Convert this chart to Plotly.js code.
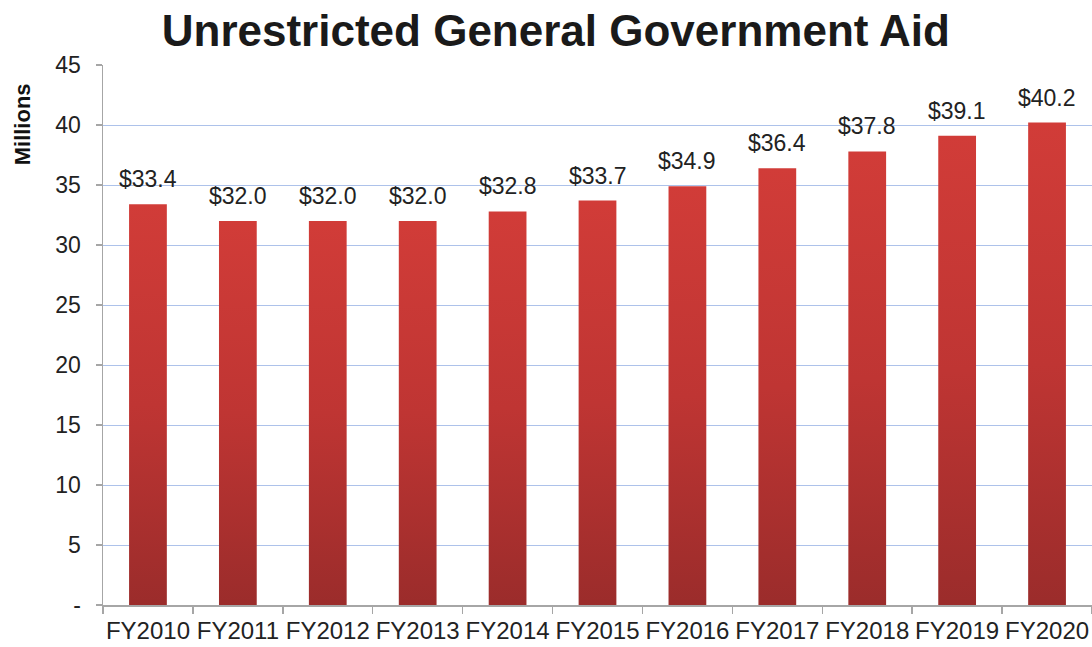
<!DOCTYPE html>
<html>
<head>
<meta charset="utf-8">
<script src="https://cdn.plot.ly/plotly-3.0.1.min.js"></script>
<style>html,body{margin:0;padding:0;background:#fff;}#chart{width:1092px;height:647px;}</style>
</head>
<body>
<div id="chart"></div>
<script>
const categories = ["FY2010","FY2011","FY2012","FY2013","FY2014","FY2015","FY2016","FY2017","FY2018","FY2019","FY2020"];
const aidMillions = [33.4, 32.0, 32.0, 32.0, 32.8, 33.7, 34.9, 36.4, 37.8, 39.1, 40.2];
const yTickValues = [0, 5, 10, 15, 20, 25, 30, 35, 40, 45];
const yTickLabels = ["-", "5", "10", "15", "20", "25", "30", "35", "40", "45"];

const FONT = "Liberation Sans, Arial, Helvetica, sans-serif";

const trace = {
  type: "bar",
  x: categories,
  y: aidMillions,
  width: 0.42,
  marker: { color: "#b83330", line: { width: 0 } },
  hoverinfo: "x+y"
};

const annotations = categories.map((c, i) => ({
  x: c, y: aidMillions[i], xref: "x", yref: "y",
  text: "$" + aidMillions[i].toFixed(1),
  showarrow: false, yanchor: "bottom", yshift: 10,
  font: { family: FONT, size: 23, color: "#222" }
}));
annotations.push({
  text: "<b>Millions</b>", xref: "paper", yref: "paper",
  x: -0.082, y: 0.89, xanchor: "center", yanchor: "middle",
  textangle: -90, showarrow: false,
  font: { family: FONT, size: 22, color: "#111" }
});

const layout = {
  width: 1092, height: 647,
  margin: { l: 103, r: 0, t: 65, b: 42 },
  paper_bgcolor: "#fff", plot_bgcolor: "#fff",
  showlegend: false,
  title: {
    text: "<b>Unrestricted General Government Aid</b>",
    font: { family: FONT, size: 44, color: "#1a1a1a" },
    x: 0.509, xref: "container", xanchor: "center",
    y: 0.952, yref: "container", yanchor: "middle"
  },
  xaxis: {
    type: "category",
    showline: true, linecolor: "#a6a6a6", linewidth: 1.5,
    ticks: "outside", tickson: "boundaries", ticklen: 7, tickcolor: "#a6a6a6", tickwidth: 1.5,
    tickangle: 0,
    ticklabelstandoff: 4,
    tickfont: { family: FONT, size: 24, color: "#222" },
    showgrid: false, zeroline: false
  },
  yaxis: {
    range: [0, 45],
    tickvals: yTickValues, ticktext: yTickLabels,
    showline: true, linecolor: "#a6a6a6", linewidth: 1.5,
    ticks: "outside", ticklen: 6, tickcolor: "#a6a6a6", tickwidth: 1.5,
    tickfont: { family: FONT, size: 23, color: "#222" },
    ticklabelstandoff: 10,
    showgrid: true, gridcolor: "#adc2ea", gridwidth: 1,
    zeroline: false
  },
  annotations: annotations
};

Plotly.newPlot("chart", [trace], layout, { displayModeBar: false, staticPlot: true }).then(gd => {
  const svg = gd.querySelector("svg.main-svg");
  const ns = "http://www.w3.org/2000/svg";
  let defs = svg.querySelector("defs");
  if (!defs) { defs = document.createElementNS(ns, "defs"); svg.insertBefore(defs, svg.firstChild); }
  const grad = document.createElementNS(ns, "linearGradient");
  grad.setAttribute("id", "barGrad");
  grad.setAttribute("x1", "0"); grad.setAttribute("y1", "0");
  grad.setAttribute("x2", "0"); grad.setAttribute("y2", "1");
  [["0", "#d13c38"], ["0.5", "#bf3533"], ["1", "#9b2c2b"]].forEach(([o, c]) => {
    const s = document.createElementNS(ns, "stop");
    s.setAttribute("offset", o); s.setAttribute("stop-color", c);
    grad.appendChild(s);
  });
  defs.appendChild(grad);
  gd.querySelectorAll(".bars .point path").forEach(p => { p.style.fill = "url(#barGrad)"; });
});
</script>
</body>
</html>
